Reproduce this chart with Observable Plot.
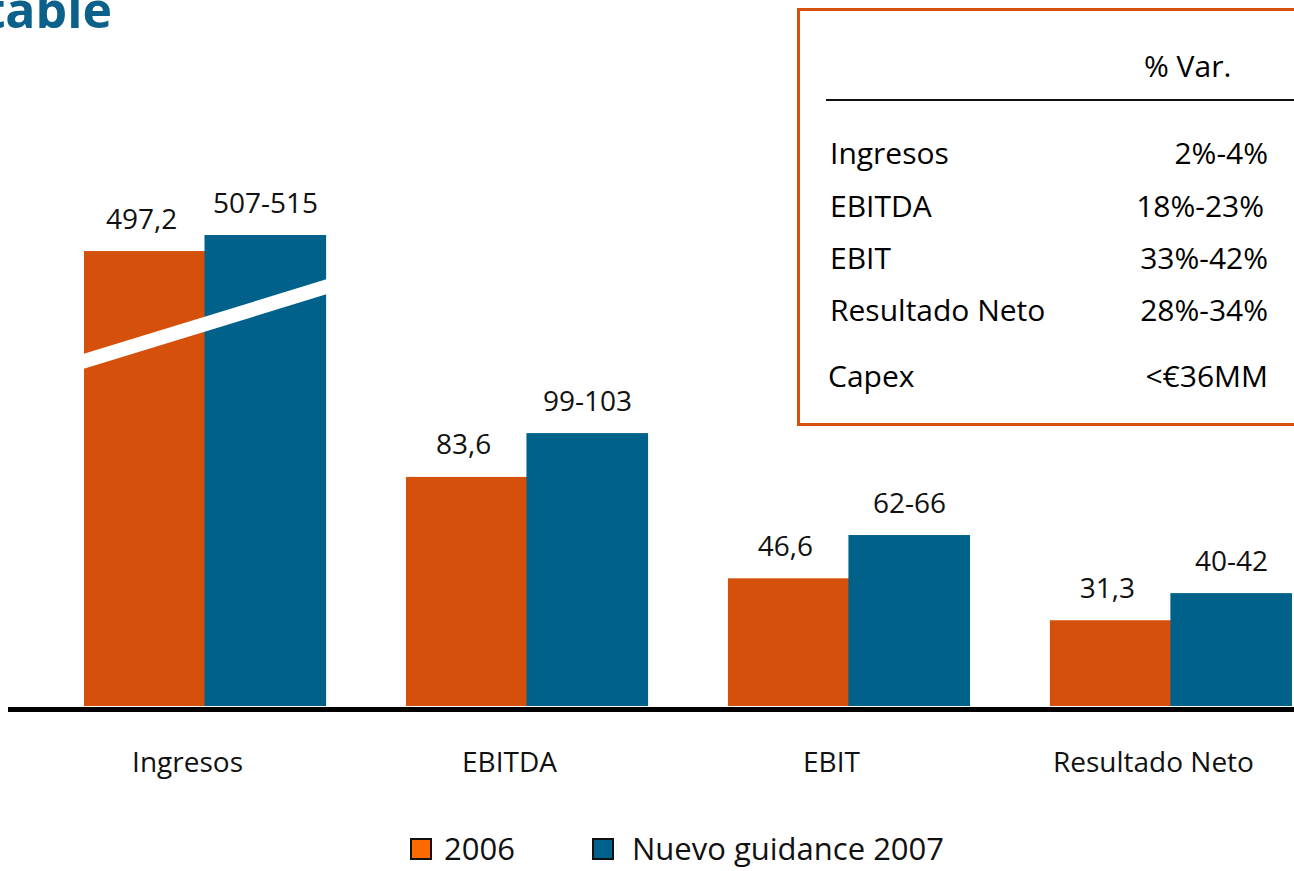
<!DOCTYPE html>
<html>
<head>
<meta charset="utf-8">
<script src="https://cdn.jsdelivr.net/npm/d3@7"></script>
<script src="https://cdn.jsdelivr.net/npm/@observablehq/plot@0.6"></script>
<style>
  html, body { margin: 0; padding: 0; background: #fff; overflow: hidden; }
  #page { position: relative; width: 1294px; height: 871px; overflow: hidden; font-family: "Open Sans", sans-serif; }
  #chart { position: absolute; left: 0; top: 0; }
  .title { position: absolute; right: 1182px; top: -16px; font-size: 50px; font-weight: 700; color: #0b6189; white-space: nowrap; line-height: 1; }
  .box { position: absolute; left: 797px; top: 8px; width: 520px; height: 418px; border: 3px solid #d5500a; box-sizing: border-box; }
  .rule { position: absolute; left: 826px; top: 99px; width: 480px; height: 2px; background: #111; }
  .t { position: absolute; font-size: 30px; line-height: 1; color: #000; white-space: nowrap; }
  .legend { position: absolute; top: 833px; left: 0; width: 1294px; font-size: 31px; line-height: 1; color: #111; }
  .item { position: absolute; display: flex; align-items: center; }
  .sw { width: 18px; height: 18px; border: 2px solid #111; margin-right: 12px; }
</style>
</head>
<body>
<div id="page">
  <div id="chart"></div>
  <div class="title">Rentable</div>
  <div class="box"></div>
  <div class="rule"></div>
  <div id="table"></div>
  <div class="legend" id="legend"></div>
</div>
<script>
// ---- Data ----
const categories = ["Ingresos", "EBITDA", "EBIT", "Resultado Neto"];
const series = ["2006", "Nuevo guidance 2007"];
const values2006 = [497.2, 83.6, 46.6, 31.3];
const labels2006 = ["497,2", "83,6", "46,6", "31,3"];
const values2007 = [511, 99.6, 62.4, 41.2];
const labels2007 = ["507-515", "99-103", "62-66", "40-42"];
// broken value axis (Ingresos bars are cut)
const yDomain = [0, 130, 480, 520];
const breakValues = [125.7, 411];

const tableHeader = "% Var.";
const tableRows = ["Ingresos", "EBITDA", "EBIT", "Resultado Neto", "Capex"];
const tableValues = ["2%-4%", "18%-23%", "33%-42%", "28%-34%", "<€36MM"];

const colors = ["#d5500a", "#00618a"];
const legendColors = ["#ff6a00", "#00618a"];

// ---- Build data table ----
const rows = [];
categories.forEach((c, i) => {
  rows.push({category: c, series: series[0], value: values2006[i], label: labels2006[i]});
  rows.push({category: c, series: series[1], value: values2007[i], label: labels2007[i]});
});
const r06 = rows.filter(d => d.series === series[0]);
const r07 = rows.filter(d => d.series === series[1]);

const W = 1294, H = 800;
const pxPerUnit = 2.74;
const base = 706;

function breakBand(index, scales) {
  const x0 = scales.x(categories[0]);
  const bw = scales.x.bandwidth();
  const ya = scales.y(breakValues[0]);
  const yb = scales.y(breakValues[1]);
  const h = 7.5;
  const p = d3.path();
  p.moveTo(x0 - 1, ya - h);
  p.lineTo(x0 + bw + 1, yb - h);
  p.lineTo(x0 + bw + 1, yb + h);
  p.lineTo(x0 - 1, ya + h);
  p.closePath();
  return d3.create("svg:path").attr("d", p.toString()).attr("fill", "#fff").node();
}

const chart = Plot.plot({
  width: W,
  height: H,
  marginLeft: 8,
  marginRight: 0,
  marginTop: 0,
  marginBottom: H - base,
  style: {fontFamily: "'Open Sans', sans-serif", fontSize: "28px", color: "#111", background: "transparent"},
  x: {domain: categories, range: [84, 1292], paddingInner: 0.248, paddingOuter: 0, round: false, axis: null},
  y: {type: "linear", domain: yDomain, range: [base, base - 130 * pxPerUnit, 271, 224.6], axis: null},
  marks: [
    Plot.barY(r06, {x: "category", y: "value", fill: colors[0], insetRight: 121}),
    Plot.barY(r07, {x: "category", y: "value", fill: colors[1], insetLeft: 120.5}),
    breakBand,
    Plot.text(r06, {x: "category", y: "value", text: "label", dx: -64, dy: -23, lineAnchor: "bottom", fontSize: 28, fill: "#111"}),
    Plot.text(r07, {x: "category", y: "value", text: "label", dx: 60, dy: -23, lineAnchor: "bottom", fontSize: 28, fill: "#111"}),
    Plot.ruleY([0], {stroke: "#000", strokeWidth: 5, dy: 3}),
    Plot.axisX({tickSize: 0, tickPadding: 46, dx: -18, fontSize: 28, label: null, fill: "#111"})
  ]
});
document.getElementById("chart").appendChild(chart);

// ---- Table ----
const tbl = document.getElementById("table");
function addText(txt, left, right, baseline) {
  const s = document.createElement("div");
  s.className = "t";
  s.textContent = txt;
  s.style.top = (baseline - 26.6) + "px";
  if (left != null) s.style.left = left + "px";
  if (right != null) s.style.right = (W - right) + "px";
  tbl.appendChild(s);
}
addText(tableHeader, 1144, null, 78);
const baselines = [165, 218, 270, 322, 388];
tableRows.forEach((r, i) => {
  addText(r, i === 4 ? 828 : 830, null, baselines[i]);
  addText(tableValues[i], null, i === 1 ? 1264 : 1268, baselines[i]);
});

// ---- Legend ----
const lg = document.getElementById("legend");
const lefts = [410, 592];
series.forEach((s, i) => {
  const it = document.createElement("div");
  it.className = "item";
  it.style.left = lefts[i] + "px";
  const sw = document.createElement("div");
  sw.className = "sw";
  sw.style.background = legendColors[i];
  sw.style.marginRight = i === 0 ? "12px" : "18px";
  const tx = document.createElement("span");
  tx.textContent = s;
  it.appendChild(sw);
  it.appendChild(tx);
  lg.appendChild(it);
});
</script>
</body>
</html>
